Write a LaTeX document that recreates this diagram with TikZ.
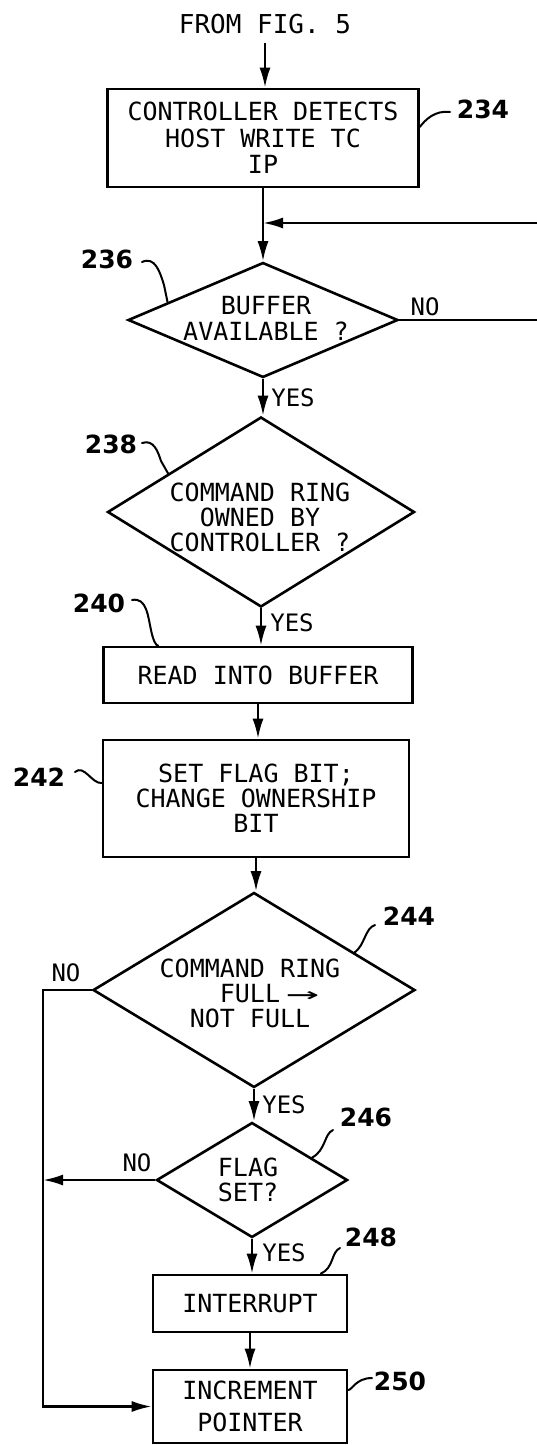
\documentclass[tikz,border=0pt]{standalone}
\usepackage{fontspec}
\usepackage{graphicx}
\usetikzlibrary{shapes.geometric,arrows.meta,calc}
\newfontfamily\pfont{DejaVu Sans Mono}
\newfontfamily\nfont{DejaVu Sans}
\begin{document}
\begin{tikzpicture}[x=1pt,y=-1pt,
  box/.style={draw, line width=2.6pt, inner sep=0pt, align=center, font=\pfont\fontsize{25}{25}\selectfont},
  dia/.style={draw, diamond, line width=2.6pt, inner sep=0pt},
  dtxt/.style={inner sep=0pt, align=center, font=\pfont\fontsize{25}{25}\selectfont},
  yn/.style={inner sep=0pt, font=\pfont\fontsize{24}{24}\selectfont},
  num/.style={inner sep=0pt, font=\nfont\bfseries\fontsize{25}{25}\selectfont},
  conn/.style={line width=2.4pt},
  arr/.style={conn, -{Latex[length=20pt,width=11pt]}},
  lead/.style={line width=2pt, line cap=round}]
\useasboundingbox (0,0) rectangle (537,1445);

% nodes
\node[yn, font=\pfont\fontsize{26}{26}\selectfont] (from) at (265,24) {FROM FIG. 5};
\node[box, minimum width=311pt, minimum height=98pt, font=\pfont\fontsize{25}{26.5}\selectfont] (b234) at (263,138) {CONTROLLER DETECTS\\HOST WRITE TC\\IP};
\node[num] (l234) at (483,109) {234};

\coordinate (j) at (263,223);
\coordinate (rtop) at (537,223);
\coordinate (rno) at (537,320);
\node[dia, minimum width=270pt, minimum height=115pt] (d236) at (263,320) {};
\node[dtxt, font=\pfont\fontsize{25}{26}\selectfont] (t236) at (266,318) {BUFFER\\AVAILABLE ?};
\node[yn] (no236) at (425,307) {NO};
\node[num] (l236) at (107,259) {236};
\node[yn] (yes236) at (293,398) {YES};

\node[dia, minimum width=307pt, minimum height=190pt] (d238) at (261,512) {};
\node[dtxt] (t238) at (260,517) {COMMAND RING\\OWNED BY\\CONTROLLER ?};
\node[num] (l238) at (111,444) {238};
\node[yn] (yes238) at (292,623) {YES};

\node[box, minimum width=309pt, minimum height=56pt] (b240) at (258,675) {READ INTO BUFFER};
\node[num] (l240) at (99,603) {240};

\node[box, minimum width=306pt, minimum height=117pt] (b242) at (256,798.5) {SET FLAG BIT;\\CHANGE OWNERSHIP\\BIT};
\node[num] (l242) at (39,777) {242};

\node[dia, minimum width=322pt, minimum height=195pt] (d244) at (254,990) {};
\node[dtxt] (t244) at (250,993) {COMMAND RING\\FULL\rlap{\hspace{6pt}\scalebox{2.2}[1]{→}}\\NOT FULL};
\node[num] (l244) at (409,916) {244};
\node[yn] (no244) at (66,973) {NO};
\node[yn] (yes244) at (284,1105) {YES};

\node[dia, minimum width=191pt, minimum height=115pt] (d246) at (252,1180) {};
\node[dtxt] (t246) at (248,1180) {FLAG\\SET?};
\node[num] (l246) at (366,1117) {246};
\node[yn] (no246) at (137,1163) {NO};
\node[yn] (yes246) at (284,1253) {YES};

\node[box, minimum width=194pt, minimum height=57pt] (b248) at (250,1303.5) {INTERRUPT};
\node[num] (l248) at (371,1237) {248};

\node[box, minimum width=194pt, minimum height=73pt, font=\pfont\fontsize{25}{32}\selectfont] (b250) at (250,1406.5) {INCREMENT\\POINTER};
\node[num] (l250) at (400,1381) {250};
\coordinate (lx) at (43,0);

% connectors
\draw[arr] ([yshift=-9pt]from.south) -- (from.south |- b234.north);
\draw[conn] (b234.south -| j) -- (j);
\draw[arr] (j) -- (d236.north);
\draw[arr] (rtop) -- (j);
\draw[conn] (d236.east) -- (d236.east -| rno);
\draw[arr] (d236.south) -- (d236.south |- d238.north);
\draw[arr] (d238.south) -- (d238.south |- b240.north);
\draw[arr] (b240.south) -- (b240.south |- b242.north);
\draw[arr] (b242.south) -- (b242.south |- d244.north);
\draw[arr] (d244.south) -- (d244.south |- d246.north);
\draw[arr] (d246.south) -- (d246.south |- b248.north);
\draw[arr] (b248.south) -- (b248.south |- b250.north);
\draw[arr] (d244.west) -- (d244.west -| lx) -- (lx |- b250.west) -- (b250.west);
\draw[arr] (d246.west) -- (d246.west -| lx);

% leaders
\coordinate (s236) at (142,262);
\coordinate (s238) at (142,443);
\coordinate (s240) at (132,600);
\coordinate (s242) at (75,772);
\coordinate (s244) at (375,925);
\coordinate (s246) at (333,1130);
\coordinate (s248) at (340,1248);
\coordinate (e250) at (372,1378);
\coordinate (e234) at (450,112);
\draw[lead] ($(b234.east)+(0,-11)$) .. controls (425,120) and (435,110) .. (e234);
\draw[lead] (s236) .. controls (155,256) and (160,272) .. (164,285) -- ($(d236.west)!0.3!(d236.north)$);
\draw[lead] (s238) .. controls (154,439) and (158,452) .. (161,461) -- ($(d238.west)!0.4!(d238.north)$);
\draw[lead] (s240) .. controls (147,597) and (148,617) .. (151,630) .. controls (153,640) and (156,646) .. ($(b240.north west)+(56,0)$);
\draw[lead] (s242) .. controls (84,764) and (92,784) .. ($(b242.west)+(0,-15.5)$);
\draw[lead] (s244) .. controls (365,928) and (365,945) .. ($(d244.north)!0.62!(d244.east)$);
\draw[lead] (s246) .. controls (324,1134) and (326,1150) .. ($(d246.north)!0.62!(d246.east)$);
\draw[lead] (s248) .. controls (331,1252) and (334,1268) .. ($(b248.north west)+(169,0)$);
\draw[lead] ($(b250.east)+(0,-16.5)$) .. controls (352,1390) and (356,1378) .. (e250);
\end{tikzpicture}
\end{document}
